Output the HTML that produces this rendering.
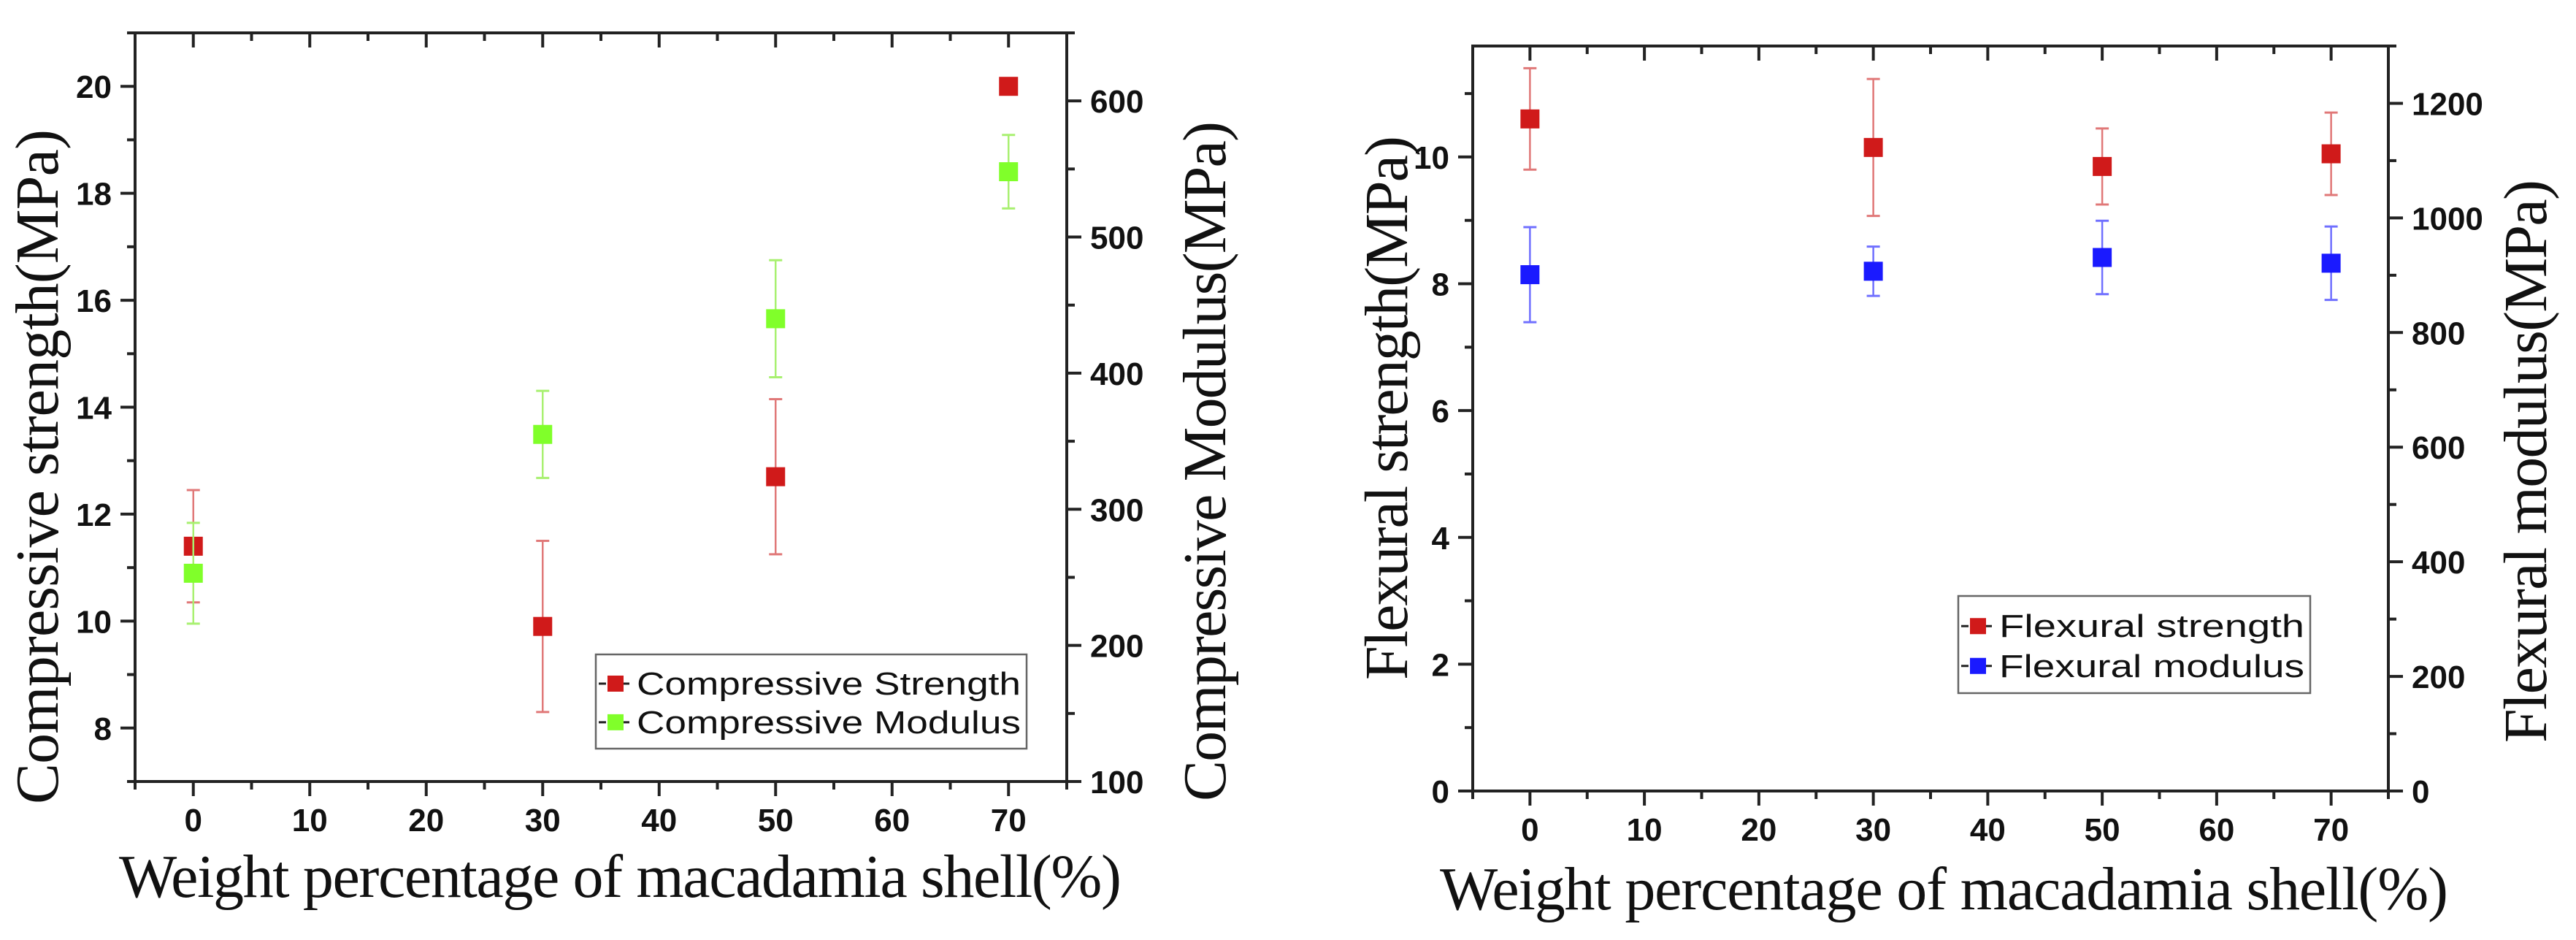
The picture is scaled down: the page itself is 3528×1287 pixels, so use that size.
<!DOCTYPE html>
<html><head><meta charset="utf-8"><style>
html,body{margin:0;padding:0;background:#fff;}
svg{display:block;}
.tk{font-family:"Liberation Sans",sans-serif;font-weight:bold;font-size:44px;fill:#111;}
.tt{font-family:"Liberation Serif",serif;font-size:84px;fill:#111;}
.lg{font-family:"Liberation Sans",sans-serif;font-size:44px;fill:#111;}
</style></head><body>
<svg id="svg" width="3528" height="1287" viewBox="0 0 3528 1287" xmlns="http://www.w3.org/2000/svg"></svg>
<script>
// ---- Data: left chart (compressive) ----
const xCats = [0, 30, 50, 70];
const xTicks = [0, 10, 20, 30, 40, 50, 60, 70];
const compStrength = [11.4, 9.9, 12.7, 20.0];
const compStrengthErr = [1.05, 1.6, 1.45, 0];
const compModulus = [253, 355, 440, 548];
const compModulusErr = [37, 32, 43, 27];
const compLeftTicks = [8, 10, 12, 14, 16, 18, 20];
const compRightTicks = [100, 200, 300, 400, 500, 600];
// ---- Data: right chart (flexural) ----
const flexStrength = [10.6, 10.15, 9.85, 10.05];
const flexStrengthErr = [0.8, 1.08, 0.6, 0.65];
const flexModulus = [901, 907, 931, 921];
const flexModulusErr = [83, 43, 64, 64];
const flexLeftTicks = [0, 2, 4, 6, 8, 10];
const flexRightTicks = [0, 200, 400, 600, 800, 1000, 1200];

const NS = "http://www.w3.org/2000/svg";
const svg = document.getElementById('svg');
function mk(tag, attrs, parent, text){
  const e = document.createElementNS(NS, tag);
  for (const k in attrs) e.setAttribute(k, attrs[k]);
  if (text !== undefined) e.textContent = text;
  (parent || svg).appendChild(e);
  return e;
}

function chart(c){
  const g = mk('g', {});
  
  
  const xs = v => c.L + (v - (-5)) / 80 * (c.R - c.L);
  const yl = v => c.B - (v - c.lmin) / (c.lmax - c.lmin) * (c.B - c.T);
  const yr = v => c.B - (v - c.rmin) / (c.rmax - c.rmin) * (c.B - c.T);
  // frame
  const fr = mk('rect', {x:c.L, y:c.T, width:c.R-c.L, height:c.B-c.T, fill:'none', stroke:'#222', 'stroke-width':4}, g);
  
  
  // x ticks
  for (let v = -5; v <= 75; v += 5) {
    const major = v % 10 === 0;
    const len = major ? 20 : 11;
    mk('line', {x1:xs(v), x2:xs(v), y1:c.B, y2:c.B+len, stroke:'#222','stroke-width':4}, g);
    mk('line', {x1:xs(v), x2:xs(v), y1:c.T, y2:c.T+len, stroke:'#222','stroke-width':4}, g);
  }
  xTicks.forEach(v => {
    const t = mk('text', {x:xs(v), y:c.B+68, 'text-anchor':'middle', class:'tk'}, g, String(v));
    
    
  });
  // left ticks
  const lstep = c.lTicks[1]-c.lTicks[0];
  for (let v = c.lTicks[0]-lstep; v <= c.lmax; v += lstep/2) {
    if (v < c.lmin - 1e-9) continue;
    const major = Math.abs((v - c.lTicks[0]) / lstep - Math.round((v - c.lTicks[0]) / lstep)) < 1e-6;
    mk('line', {x1:c.L-(major?20:11), x2:c.L, y1:yl(v), y2:yl(v), stroke:'#222','stroke-width':4}, g);
  }
  c.lTicks.forEach(v => {
    const t = mk('text', {x:c.L-32, y:yl(v)+16, 'text-anchor':'end', class:'tk'}, g, String(v));
    
    
  });
  // right ticks
  const rstep = c.rTicks[1]-c.rTicks[0];
  for (let v = c.rmin; v <= c.rmax; v += rstep/2) {
    const major = Math.abs((v - c.rTicks[0]) / rstep - Math.round((v - c.rTicks[0]) / rstep)) < 1e-6;
    mk('line', {x1:c.R, x2:c.R+(major?20:11), y1:yr(v), y2:yr(v), stroke:'#222','stroke-width':4}, g);
  }
  c.rTicks.forEach(v => {
    const t = mk('text', {x:c.R+32, y:yr(v)+16, 'text-anchor':'start', class:'tk'}, g, String(v));
    
    
  });
  // titles
  const xt = mk('text', {x:c.xt[0], y:c.xt[2], class:'tt', textLength:c.xt[1]-c.xt[0], lengthAdjust:'spacing'}, g, 'Weight percentage of macadamia shell(%)');
  
  
  const ytl = mk('text', {x:0, y:0, class:'tt', textLength:c.yl[2]-c.yl[1], lengthAdjust:'spacing', transform:`translate(${c.yl[0]+28},${c.yl[2]}) rotate(-90)`}, g, c.lTitle);
  
  
  const ytr = mk('text', {x:0, y:0, class:'tt', textLength:c.yr[2]-c.yr[1], lengthAdjust:'spacing', transform:`translate(${c.yr[0]+28},${c.yr[2]}) rotate(-90)`}, g, c.rTitle);
  
  
  // series
  function series(vals, errs, ys, col, ecol, nm){
    const sg = mk('g', {}, g);
    
    
    xCats.forEach((xv, i) => {
      const x = xs(xv);
      if (errs[i] > 0) {
        const y1 = ys(vals[i]+errs[i]), y2 = ys(vals[i]-errs[i]);
        mk('line', {x1:x, x2:x, y1:y1, y2:y2, stroke:ecol, 'stroke-width':2.5}, sg);
        mk('line', {x1:x-9, x2:x+9, y1:y1, y2:y1, stroke:ecol, 'stroke-width':3}, sg);
        mk('line', {x1:x-9, x2:x+9, y1:y2, y2:y2, stroke:ecol, 'stroke-width':3}, sg);
      }
      const m = mk('rect', {x:x-13, y:ys(vals[i])-13, width:26, height:26, fill:col}, sg);
      
      
    });
  }
  series(c.s1, c.e1, yl, c.c1, c.ec1, c.n1);
  series(c.s2, c.e2, yr, c.c2, c.ec2, c.n2);
  // legend
  const lg = mk('g', {}, g);
  
  
  const [lx1, ly1, lx2, ly2] = c.leg;
  mk('rect', {x:lx1, y:ly1, width:lx2-lx1, height:ly2-ly1, fill:'#fff', stroke:'#666', 'stroke-width':2.5}, lg);
  const rows = [[c.c1, c.l1], [c.c2, c.l2]];
  rows.forEach((r, i) => {
    const cy = ly1 + (ly2-ly1) * (i === 0 ? 0.31 : 0.72);
    const e = mk('g', {}, lg);
    
    
    mk('line', {x1:lx1+4, x2:lx1+14, y1:cy, y2:cy, stroke:'#222', 'stroke-width':3}, e);
    mk('line', {x1:lx1+36, x2:lx1+46, y1:cy, y2:cy, stroke:'#222', 'stroke-width':3}, e);
    mk('rect', {x:lx1+16, y:cy-11, width:22, height:22, fill:r[0]}, e);
    mk('text', {x:lx1+56, y:cy+15, class:'lg', textLength:lx2-lx1-64, lengthAdjust:'spacingAndGlyphs'}, e, r[1]);
  });
}

chart({name:'compressive-chart', L:185, R:1461, T:45, B:1070, lmin:7, lmax:21, rmin:100, rmax:650,
  lTicks:compLeftTicks, rTicks:compRightTicks,
  lTitle:'Compressive  strength(MPa)', rTitle:'Compressive  Modulus(MPa)',
  xt:[163, 1536, 1228], yl:[51, 177, 1101], yr:[1650, 166, 1097],
  s1:compStrength, e1:compStrengthErr, c1:'#d01a1a', ec1:'#e07878', n1:'compressive-strength-series', l1:'Compressive Strength',
  s2:compModulus, e2:compModulusErr, c2:'#80ff2a', ec2:'#a8f070', n2:'compressive-modulus-series', l2:'Compressive Modulus',
  leg:[816, 896, 1406, 1025]});

chart({name:'flexural-chart', L:2017, R:3271, T:63, B:1083, lmin:0, lmax:11.75, rmin:0, rmax:1300,
  lTicks:flexLeftTicks, rTicks:flexRightTicks,
  lTitle:'Flexural  strength(MPa)', rTitle:'Flexural  modulus(MPa)',
  xt:[1972, 3353, 1245], yl:[1899, 186, 931], yr:[3459, 246, 1017],
  s1:flexStrength, e1:flexStrengthErr, c1:'#d01a1a', ec1:'#e07878', n1:'flexural-strength-series', l1:'Flexural strength',
  s2:flexModulus, e2:flexModulusErr, c2:'#1a1aff', ec2:'#7070ff', n2:'flexural-modulus-series', l2:'Flexural modulus',
  leg:[2682, 816, 3164, 949]});
</script>
</body></html>
